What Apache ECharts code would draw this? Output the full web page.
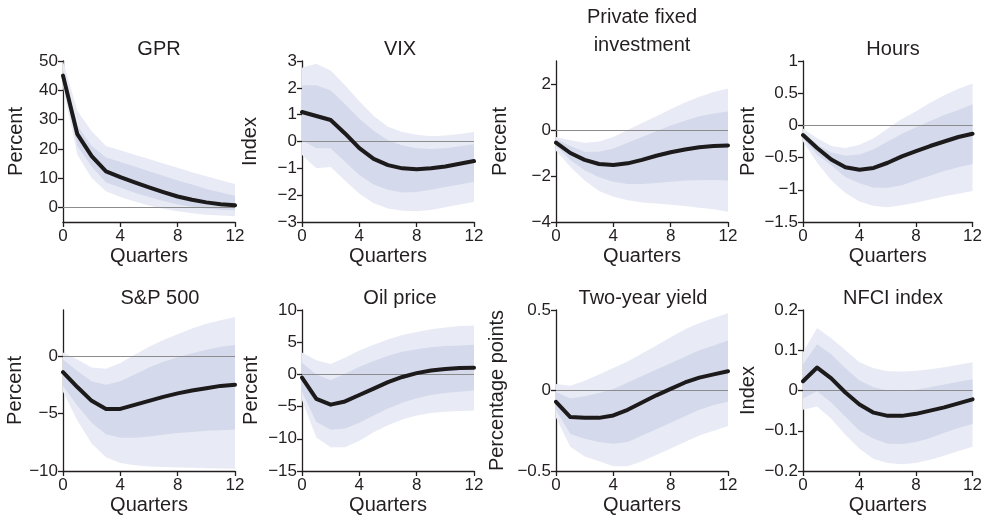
<!DOCTYPE html>
<html>
<head>
<meta charset="utf-8">
<script src="https://cdn.jsdelivr.net/npm/echarts@6/dist/echarts.min.js"></script>
<style>
html,body{margin:0;padding:0;background:#fff;}
#chart{width:985px;height:524px;}
</style>
</head>
<body>
<div id="chart"></div>
<script>
const quarters = [0,1,2,3,4,5,6,7,8,9,10,11,12];
const xTicks = [0,4,8,12];

// GPR
const gprMedian  = [45,25,17.5,12.3,10.3,8.5,6.8,5.2,3.7,2.6,1.7,1.1,0.7];
const gprInnerHi = [47,28,21,17,15.5,14,12.3,10.8,9.2,7.8,6.3,5.1,4];
const gprInnerLo = [43,21,14,8.5,6.8,5,3.5,2.2,1,0.2,-0.4,-0.8,-1];
const gprOuterHi = [50,33,26,21,19.5,18,16.5,15,13.5,12,10.6,9.3,8];
const gprOuterLo = [41,18,10,5.5,3.5,2,0.6,-0.5,-1.3,-2,-2.5,-2.8,-3];

// VIX
const vixMedian  = [1.1,0.95,0.8,0.3,-0.25,-0.65,-0.88,-1.0,-1.03,-1.0,-0.93,-0.83,-0.73];
const vixInnerHi = [2.1,2.1,1.9,1.4,0.85,0.4,0.05,-0.15,-0.25,-0.28,-0.25,-0.18,-0.1];
const vixInnerLo = [0.05,-0.25,-0.25,-0.75,-1.25,-1.6,-1.8,-1.9,-1.88,-1.8,-1.7,-1.6,-1.5];
const vixOuterHi = [2.75,2.9,2.65,2.1,1.5,0.95,0.55,0.35,0.25,0.2,0.22,0.28,0.35];
const vixOuterLo = [-0.5,-1.0,-0.95,-1.45,-1.95,-2.3,-2.5,-2.58,-2.6,-2.55,-2.45,-2.35,-2.25];

// Private fixed investment
const pfiMedian  = [-0.55,-1.0,-1.3,-1.48,-1.52,-1.45,-1.3,-1.12,-0.97,-0.85,-0.75,-0.7,-0.67];
const pfiInnerHi = [-0.4,-0.7,-0.95,-0.95,-0.8,-0.55,-0.3,-0.05,0.2,0.4,0.6,0.72,0.8];
const pfiInnerLo = [-0.7,-1.3,-1.75,-2.05,-2.25,-2.35,-2.35,-2.3,-2.25,-2.2,-2.18,-2.17,-2.2];
const pfiOuterHi = [-0.3,-0.45,-0.55,-0.5,-0.3,0.0,0.3,0.6,0.9,1.2,1.45,1.65,1.8];
const pfiOuterLo = [-0.9,-1.6,-2.2,-2.65,-2.9,-3.05,-3.15,-3.2,-3.25,-3.3,-3.38,-3.45,-3.55];

// Hours
const hrsMedian  = [-0.15,-0.35,-0.53,-0.65,-0.69,-0.66,-0.58,-0.48,-0.4,-0.32,-0.25,-0.18,-0.13];
const hrsInnerHi = [-0.1,-0.3,-0.42,-0.47,-0.45,-0.37,-0.25,-0.13,-0.03,0.07,0.16,0.24,0.33];
const hrsInnerLo = [-0.2,-0.45,-0.62,-0.8,-0.9,-0.97,-0.97,-0.93,-0.85,-0.78,-0.71,-0.65,-0.6];
const hrsOuterHi = [-0.05,-0.2,-0.32,-0.35,-0.3,-0.2,-0.05,0.1,0.22,0.35,0.47,0.57,0.65];
const hrsOuterLo = [-0.25,-0.58,-0.85,-1.05,-1.18,-1.25,-1.27,-1.24,-1.2,-1.15,-1.1,-1.06,-1.02];

// S&P 500
const spxMedian  = [-1.4,-2.7,-3.9,-4.6,-4.6,-4.25,-3.9,-3.55,-3.25,-3.0,-2.8,-2.6,-2.5];
const spxInnerHi = [-0.3,-1.3,-2.2,-2.5,-2.2,-1.6,-1.0,-0.5,-0.1,0.25,0.55,0.8,0.95];
const spxInnerLo = [-2.6,-4.3,-5.8,-6.8,-7.1,-7.1,-7.0,-6.85,-6.7,-6.6,-6.5,-6.45,-6.4];
const spxOuterHi = [0.3,-0.3,-1.0,-1.1,-0.6,0.1,0.8,1.4,1.9,2.4,2.8,3.1,3.4];
const spxOuterLo = [-3.1,-5.6,-7.6,-8.8,-9.3,-9.5,-9.6,-9.65,-9.7,-9.72,-9.75,-9.78,-9.8];

// Oil price
const oilMedian  = [-0.5,-3.8,-4.7,-4.2,-3.2,-2.2,-1.2,-0.4,0.2,0.6,0.85,1.0,1.05];
const oilInnerHi = [1.8,0.0,-0.9,0.1,1.2,2.1,2.9,3.5,3.9,4.2,4.4,4.5,4.6];
const oilInnerLo = [-2.7,-7.4,-8.6,-8.4,-7.5,-6.4,-5.3,-4.4,-3.7,-3.2,-2.9,-2.7,-2.5];
const oilOuterHi = [3.4,2.2,1.6,2.6,3.7,4.6,5.4,6.1,6.6,7.0,7.3,7.5,7.6];
const oilOuterLo = [-4.0,-9.8,-11.3,-11.3,-10.3,-9.0,-7.9,-7.0,-6.4,-6.0,-5.8,-5.7,-5.6];

// Two-year yield
const tyMedian  = [-0.07,-0.165,-0.17,-0.17,-0.155,-0.12,-0.075,-0.03,0.01,0.05,0.08,0.1,0.12];
const tyInnerHi = [-0.01,-0.05,-0.035,-0.015,0.01,0.05,0.09,0.13,0.17,0.21,0.25,0.28,0.31];
const tyInnerLo = [-0.12,-0.27,-0.3,-0.32,-0.33,-0.32,-0.28,-0.24,-0.2,-0.16,-0.12,-0.09,-0.07];
const tyOuterHi = [0.04,0.03,0.06,0.1,0.14,0.18,0.23,0.28,0.33,0.38,0.42,0.45,0.48];
const tyOuterLo = [-0.17,-0.35,-0.41,-0.44,-0.47,-0.47,-0.44,-0.4,-0.36,-0.32,-0.28,-0.25,-0.22];

// NFCI index
const nfciMedian  = [0.023,0.057,0.03,-0.005,-0.035,-0.055,-0.063,-0.063,-0.058,-0.05,-0.042,-0.032,-0.022];
const nfciInnerHi = [0.065,0.115,0.09,0.055,0.025,0.008,0.0,-0.002,0.002,0.008,0.015,0.022,0.028];
const nfciInnerLo = [-0.02,-0.002,-0.03,-0.065,-0.1,-0.12,-0.132,-0.133,-0.128,-0.118,-0.105,-0.093,-0.083];
const nfciOuterHi = [0.095,0.155,0.13,0.1,0.07,0.055,0.048,0.047,0.049,0.053,0.058,0.064,0.07];
const nfciOuterLo = [-0.048,-0.04,-0.07,-0.11,-0.145,-0.17,-0.18,-0.183,-0.18,-0.172,-0.162,-0.15,-0.14];

const titles = ['GPR','VIX','Private fixed\ninvestment','Hours','S&P 500','Oil price','Two-year yield','NFCI index'];
const yNames = ['Percent','Index','Percent','Percent','Percent','Percent','Percentage points','Index'];
const yTicks = [
  [0,10,20,30,40,50],
  [-3,-2,-1,0,1,2,3],
  [-4,-2,0,2],
  [-1.5,-1,-0.5,0,0.5,1],
  [-10,-5,0],
  [-15,-10,-5,0,5,10],
  [-0.5,0,0.5],
  [-0.2,-0.1,0,0.1,0.2]
];
const yRanges = [[-5,50],[-3,3],[-4,3],[-1.5,1],[-10,4],[-15,10],[-0.5,0.5],[-0.2,0.2]];
const medians = [gprMedian,vixMedian,pfiMedian,hrsMedian,spxMedian,oilMedian,tyMedian,nfciMedian];
const innerHi = [gprInnerHi,vixInnerHi,pfiInnerHi,hrsInnerHi,spxInnerHi,oilInnerHi,tyInnerHi,nfciInnerHi];
const innerLo = [gprInnerLo,vixInnerLo,pfiInnerLo,hrsInnerLo,spxInnerLo,oilInnerLo,tyInnerLo,nfciInnerLo];
const outerHi = [gprOuterHi,vixOuterHi,pfiOuterHi,hrsOuterHi,spxOuterHi,oilOuterHi,tyOuterHi,nfciOuterHi];
const outerLo = [gprOuterLo,vixOuterLo,pfiOuterLo,hrsOuterLo,spxOuterLo,oilOuterLo,tyOuterLo,nfciOuterLo];

// layout
const gridLefts = [63,302,556,803];
const gridWidth = 172;
const rowTops = [61,310];
const gridHeight = 161;
const nameGaps = [37,42,46,45,37,41,49,45];
const titleCenters = [159,400,642,893,160,400,643,893];
const titleTops = [35,35,3,35,284,284,284,284];

const FONT = '"Liberation Sans", Arial, Helvetica, sans-serif';
const TEXT = '#231f20';
const OUTER = '#e8ebf5';
const INNER = '#d4d9eb';

function fmt(v){
  let s = String(Math.round(v*1000)/1000);
  return s.replace('-', '\u2212');
}

const grids=[], xAxes=[], yAxes=[], series=[], titleOpts=[];
for (let p=0;p<8;p++){
  const col=p%4, row=Math.floor(p/4);
  grids.push({left:gridLefts[col], top:rowTops[row], width:gridWidth, height:gridHeight, containLabel:false});
  xAxes.push({
    type:'value', gridIndex:p, min:0, max:12, interval:4,
    name:'Quarters', nameLocation:'middle', nameGap:24,
    nameTextStyle:{fontFamily:FONT, fontSize:20, color:TEXT},
    axisLine:{onZero:false, lineStyle:{color:'#231f20', width:1.3}},
    axisTick:{length:5, lineStyle:{color:'#231f20', width:1.3}},
    axisLabel:{fontFamily:FONT, fontSize:17, color:TEXT, margin:6},
    splitLine:{show:false}
  });
  yAxes.push({
    type:'value', gridIndex:p, min:yRanges[p][0], max:yRanges[p][1],
    name:yNames[p], nameLocation:'middle', nameGap:nameGaps[p],
    nameTextStyle:{fontFamily:FONT, fontSize:20, color:TEXT},
    axisLine:{show:true, onZero:false, lineStyle:{color:'#231f20', width:1.3}},
    axisTick:{show:true, length:5, customValues:yTicks[p], lineStyle:{color:'#231f20', width:1.3}},
    axisLabel:{fontFamily:FONT, fontSize:17, color:TEXT, margin:5, customValues:yTicks[p], formatter:fmt},
    splitLine:{show:false}
  });
  titleOpts.push({
    text:titles[p], left:titleCenters[p], top:titleTops[p], textAlign:'center', padding:0,
    textStyle:{fontFamily:FONT, fontSize:20, fontWeight:'normal', color:TEXT, lineHeight:28}
  });
  const bands = [[outerLo[p],outerHi[p],OUTER],[innerLo[p],innerHi[p],INNER]];
  bands.forEach(function(b, bi){
    const lo=b[0], hi=b[1], color=b[2];
    series.push({
      type:'custom', xAxisIndex:p, yAxisIndex:p, silent:true, z:1+bi,
      data: quarters.map(function(q,i){return [q, lo[i], hi[i]];}),
      encode:{x:0, y:[1,2]},
      renderItem:function(params, api){
        if (params.dataIndex!==0) return null;
        const pts=[];
        for (let i=0;i<quarters.length;i++) pts.push(api.coord([quarters[i], hi[i]]));
        for (let i=quarters.length-1;i>=0;i--) pts.push(api.coord([quarters[i], lo[i]]));
        return {type:'polygon', shape:{points:pts}, style:{fill:color}};
      }
    });
  });
  series.push({
    type:'line', xAxisIndex:p, yAxisIndex:p, z:5, silent:true,
    data: quarters.map(function(q,i){return [q, medians[p][i]];}),
    showSymbol:false, symbol:'none',
    lineStyle:{color:'#1c1a1b', width:4, join:'round', cap:'round'},
    markLine:{
      silent:true, symbol:'none', label:{show:false}, animation:false,
      lineStyle:{color:'#8c8c8c', width:1, type:'solid'},
      data:[{yAxis:0}]
    },
    animation:false
  });
}

const chart = echarts.init(document.getElementById('chart'), null, {renderer:'canvas'});
chart.setOption({
  animation:false,
  backgroundColor:'#ffffff',
  title:titleOpts,
  grid:grids,
  xAxis:xAxes,
  yAxis:yAxes,
  series:series
});
</script>
</body>
</html>
